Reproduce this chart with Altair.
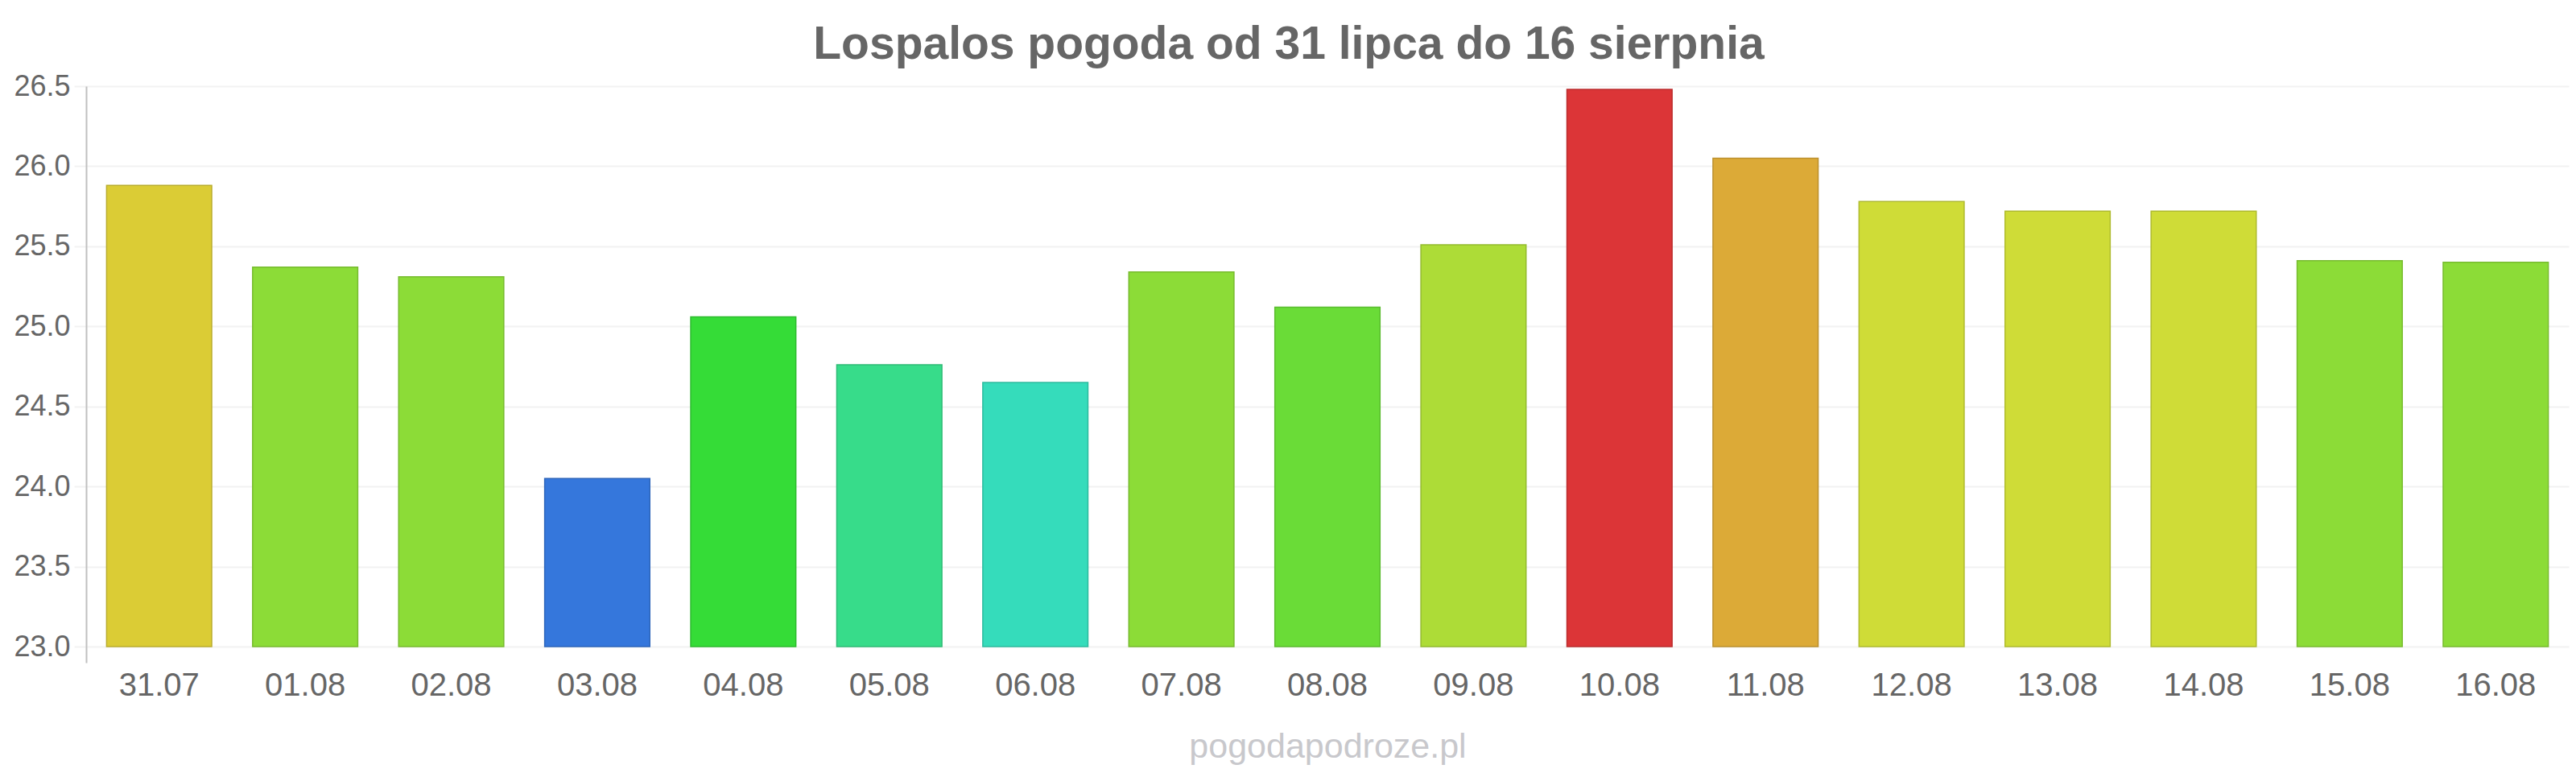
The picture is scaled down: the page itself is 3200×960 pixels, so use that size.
import altair as alt
import pandas as pd

dates = ["31.07", "01.08", "02.08", "03.08", "04.08", "05.08", "06.08", "07.08", "08.08",
         "09.08", "10.08", "11.08", "12.08", "13.08", "14.08", "15.08", "16.08"]
temps = [25.88, 25.37, 25.31, 24.05, 25.06, 24.76, 24.65, 25.34, 25.12,
         25.51, 26.48, 26.05, 25.78, 25.72, 25.72, 25.41, 25.40]
colors = ["#dbcc35", "#8cdc37", "#8cdc37", "#3577dc", "#35dc37", "#37dc8a", "#35dcbb", "#8cdc37", "#6adc37",
          "#addc37", "#dc3537", "#dcaa37", "#cfdc37", "#cfdc37", "#cfdc37", "#8cdc37", "#8cdc37"]
y_ticks = [23.0, 23.5, 24.0, 24.5, 25.0, 25.5, 26.0, 26.5]


def darker(hex_color, f=0.85):
    h = hex_color.lstrip("#")
    r, g, b = (int(h[i:i + 2], 16) for i in (0, 2, 4))
    return "#%02x%02x%02x" % (int(r * f), int(g * f), int(b * f))


df = pd.DataFrame({
    "date": dates,
    "temp": temps,
    "color": colors,
    "stroke": [darker(c) for c in colors],
})

FONT = "Liberation Sans"

chart = alt.Chart(df).mark_bar(strokeWidth=1.5).encode(
    x=alt.X(
        "date:N",
        sort=dates,
        scale=alt.Scale(paddingInner=0.28, paddingOuter=0.14),
        axis=alt.Axis(
            title="pogodapodroze.pl",
            titleFont=FONT,
            titleFontSize=43,
            titleFontWeight="normal",
            titleColor="#c8c8cc",
            titlePadding=35,
            labelFont=FONT,
            labelFontSize=40,
            labelColor="#666666",
            labelPadding=8,
            labelAngle=0,
            domain=False,
            ticks=False,
            grid=False,
        ),
    ),
    y=alt.Y(
        "temp:Q",
        scale=alt.Scale(domain=[22.9, 26.5], nice=False, zero=False),
        axis=alt.Axis(
            title=None,
            values=y_ticks,
            format=".1f",
            labelFont=FONT,
            labelFontSize=36,
            labelColor="#666666",
            labelPadding=5,
            tickSize=15,
            tickColor="#f2f2f2",
            tickWidth=2,
            gridColor="#f2f2f2",
            gridWidth=2,
            domainColor="#c0c0c0",
            domainWidth=2,
        ),
    ),
    y2=alt.datum(23.0),
    color=alt.Color("color:N", scale=None, legend=None),
    stroke=alt.Stroke("stroke:N", scale=None, legend=None),
).properties(
    width=3084,
    height=716,
    title=alt.TitleParams(
        text="Lospalos pogoda od 31 lipca do 16 sierpnia",
        font=FONT,
        fontSize=57,
        fontWeight="bold",
        color="#666666",
        anchor="middle",
        offset=4,
        dx=-48,
    ),
    autosize=alt.AutoSizeParams(type="none"),
    padding={"left": 99, "top": 99, "right": 1, "bottom": 129},
).configure_view(stroke=None)

chart.save("out.html", embed_options={"renderer": "svg", "actions": False})
